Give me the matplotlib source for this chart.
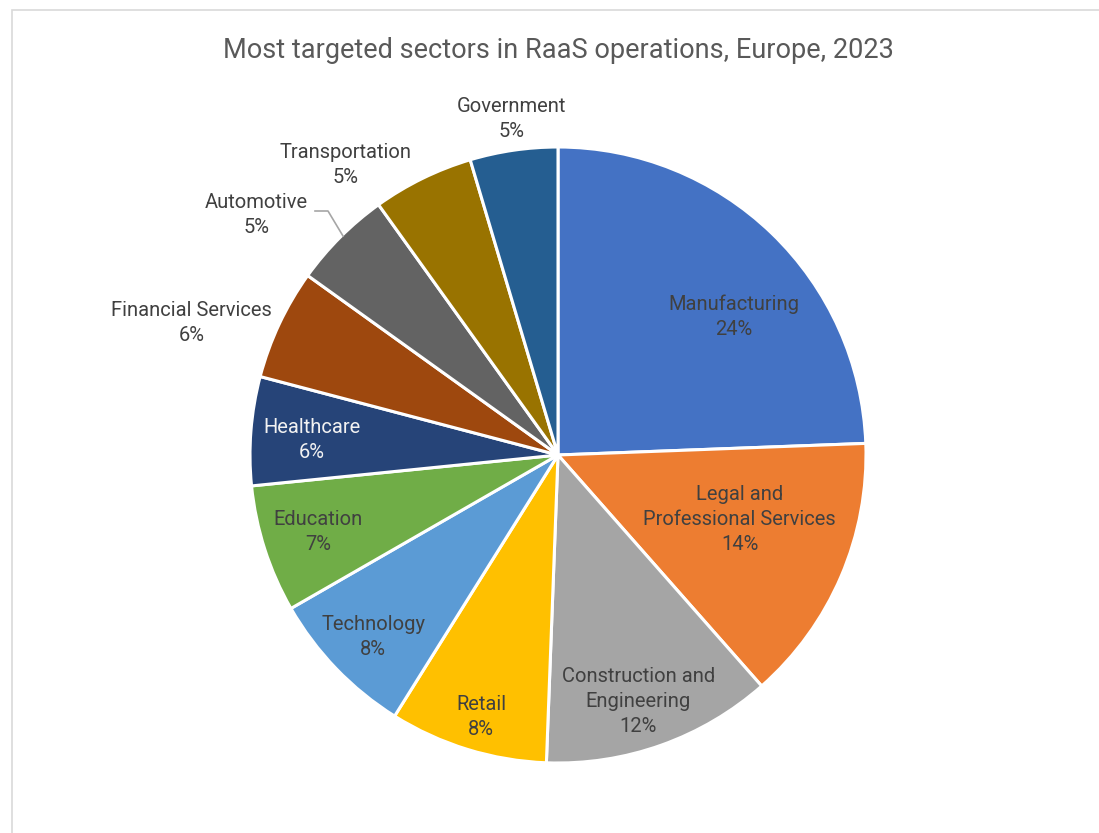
import matplotlib.pyplot as plt
from matplotlib.patches import Rectangle

# data (percent of attacks)
sectors = ['Manufacturing', 'Legal and\nProfessional Services', 'Construction and\nEngineering',
           'Retail', 'Technology', 'Education', 'Healthcare', 'Financial Services',
           'Automotive', 'Transportation', 'Government']
shares = [24.4, 14.1, 12.1, 8.3, 7.8, 6.7, 5.7, 5.8, 5.2, 5.3, 4.6]
colors = ['#4472C4', '#ED7D31', '#A5A5A5', '#FFC000', '#5B9BD5', '#70AD47',
          '#264478', '#9E480E', '#636363', '#997300', '#255E91']

# label layout (in pie-radius units) and text colours
label_pos = [(0.57, 0.45), (0.59, -0.21), (0.26, -0.80), (-0.25, -0.85), (-0.60, -0.59),
             (-0.78, -0.25), (-0.80, 0.05), (-1.19, 0.43), (-0.98, 0.78), (-0.69, 0.94),
             (-0.15, 1.09)]
label_col = ['#404040'] * 11
label_col[6] = '#F2F2F2'

W, H = 1099, 833
CX, CY, R = 558, 455, 308

fig = plt.figure(figsize=(W / 100, H / 100), dpi=100)
plt.rcParams['font.family'] = ['Roboto', 'DejaVu Sans']

# chart frame
fig.patches.append(Rectangle((12 / W, -0.1), 1.2, 1 - 10 / H + 0.1, transform=fig.transFigure,
                             fill=False, edgecolor='#D9D9D9', linewidth=1.2))

ax = fig.add_axes([0, 0, 1, 1])
ax.pie(shares, colors=colors, startangle=90, counterclock=False, radius=1,
       wedgeprops=dict(edgecolor='white', linewidth=2.2))
ax.set_aspect('auto')
ax.set_xlim(-CX / R, (W - CX) / R)
ax.set_ylim((CY - H) / R, CY / R)
ax.axis('off')

for name, val, (x, y), c in zip(sectors, shares, label_pos, label_col):
    ax.text(x, y, f'{name}\n{round(val)}%', ha='center', va='center',
            fontsize=14.5, color=c, linespacing=1.4)

# leader line for Automotive
ax.plot([(315 - CX) / R, (328 - CX) / R, (343 - CX) / R],
        [(CY - 211) / R, (CY - 211) / R, (CY - 236) / R], color='#A6A6A6', linewidth=1.2)

fig.text(558 / W, 1 - 50 / H, 'Most targeted sectors in RaaS operations, Europe, 2023',
         ha='center', va='center', fontsize=19.5, color='#595959')

fig.savefig('out.png', dpi=100)
